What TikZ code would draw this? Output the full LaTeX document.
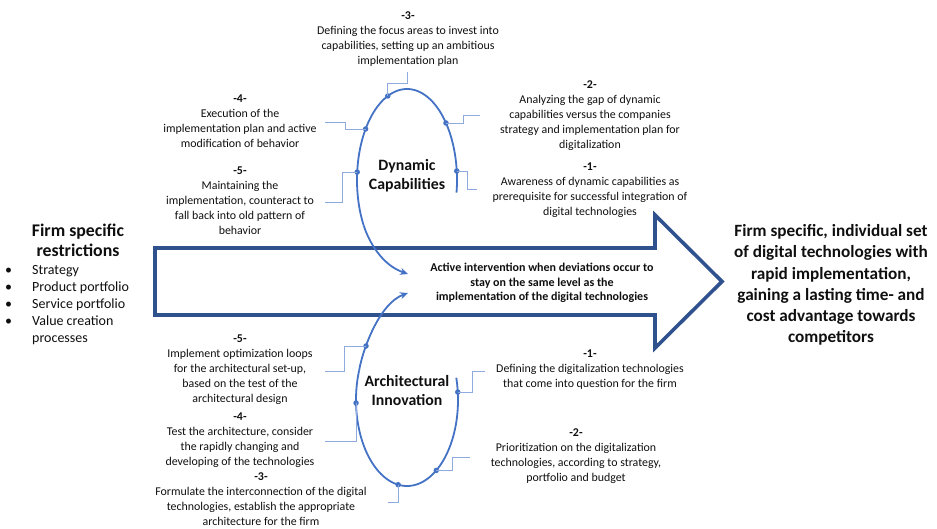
\documentclass[tikz,border=0pt]{standalone}
\usepackage{fontspec}
\setmainfont{Carlito}
\usetikzlibrary{arrows.meta}
\definecolor{arrowblue}{RGB}{47,82,143}
\definecolor{loopblue}{RGB}{68,114,196}
\definecolor{conblue}{RGB}{143,170,220}
\definecolor{txt}{RGB}{15,15,15}
\tikzset{
  lbl/.style={align=center, font=\fontsize{11.9}{15}\selectfont, text=txt, inner sep=0pt},
  loopline/.style={draw=loopblue, line width=1.8pt},
  conline/.style={draw=conblue, line width=0.9pt},
  dot/.style={circle, fill=loopblue, inner sep=0pt, minimum size=5.5pt},
  looptitle/.style={align=center, font=\fontsize{15.8}{19}\selectfont\bfseries, text=txt, inner sep=0pt},
}
\begin{document}
\begin{tikzpicture}[x=1pt,y=-1pt]
\useasboundingbox (0,0) rectangle (937,528);
% big arrow
\draw[arrowblue, line width=3.6pt, line join=miter]
  (155,248) -- (655,248) -- (655,215) -- (722,281.5) -- (655,348) -- (655,315) -- (155,315) -- cycle;

% upper loop
\draw[loopline] plot[domain=8:-210, samples=120] ({407+50*cos(\x)},{180+91*sin(\x)});
\coordinate (ustart) at ({407+50*cos(150)},{180+91*sin(150)});
\coordinate (utip) at (408,274);
\draw[loopline, -{Stealth[length=8pt,width=7pt]}] (ustart) .. controls (369,242) and (382,265) .. (utip);

% lower loop
\draw[loopline] plot[domain=-15:200, samples=120] ({407+51*cos(\x)},{400+86*sin(\x)});
\coordinate (lstart) at ({407+51*cos(200)},{400+86*sin(200)});
\coordinate (ltip) at (408,293);
\draw[loopline, -{Stealth[length=8pt,width=7pt]}] (lstart) .. controls (363,348) and (380,303) .. (ltip);

% upper dots
\node[dot] (ud1) at ({407+50*cos(-5.7)},{180+91*sin(-5.7)}) {};
\node[dot] (ud2) at ({407+50*cos(-38.8)},{180+91*sin(-38.8)}) {};
\node[dot] (ud3) at ({407+50*cos(-112.6)},{180+91*sin(-112.6)}) {};
\node[dot] (ud4) at ({407+50*cos(-145.9)},{180+91*sin(-145.9)}) {};
\node[dot] (ud5) at ({407+50*cos(-175)},{180+91*sin(-175)}) {};
% lower dots
\node[dot] (ld1) at ({407+51*cos(-5.3)},{400+86*sin(-5.3)}) {};
\node[dot] (ld2) at ({407+51*cos(55)},{400+86*sin(55)}) {};
\node[dot] (ld3) at ({407+51*cos(100)},{400+86*sin(100)}) {};
\node[dot] (ld4) at ({407+51*cos(178)},{400+86*sin(178)}) {};
\node[dot] (ld5) at (366,346) {};

% connector ends
\coordinate (cu3) at (407,72);
\coordinate (cu2) at (480,115);
\coordinate (cu1) at (477,189);
\coordinate (cu4) at (325,122);
\coordinate (cu5) at (325,202);
\coordinate (cl5) at (325,371);
\coordinate (cl4) at (325,441);
\coordinate (cl3) at (388,502);
\coordinate (cl2) at (470,457);
\coordinate (cl1) at (485,371);

\draw[conline] (ud3.center) -- (ud3.center |- 0,83) -- (cu3 |- 0,83) -- (cu3);
\draw[conline] (ud2.center) -- (463,0 |- ud2.center) -- (463,115) -- (cu2);
\draw[conline] (ud1.center) -- (467,0 |- ud1.center) -- (467,189) -- (cu1);
\draw[conline] (ud4.center) -- (345,0 |- ud4.center) -- (345,122) -- (cu4);
\draw[conline] (ud5.center) -- (342,0 |- ud5.center) -- (342,202) -- (cu5);
\draw[conline] (ld5.center) -- (344,0 |- ld5.center) -- (344,371) -- (cl5);
\draw[conline] (ld4.center) -- (ld4.center |- 0,441) -- (cl4);
\draw[conline] (ld3.center) -- (ld3.center |- 0,502) -- (cl3);
\draw[conline] (ld2.center) -- (452,0 |- ld2.center) -- (452,457) -- (cl2);
\draw[conline] (ld1.center) -- (472,0 |- ld1.center) -- (472,371) -- (cl1);

% loop titles
\node[looptitle] (dyn) at (407,176) {Dynamic\\Capabilities};
\node[looptitle] (arch) at (407,391) {Architectural\\Innovation};

% step texts
\node[lbl] (tu3) at (408,39) {\textbf{-3-}\\Defining the focus areas to invest into\\capabilities, setting up an ambitious\\implementation plan};
\node[lbl] (tu2) at (590,116) {\textbf{-2-}\\Analyzing the gap of dynamic\\capabilities versus the companies\\strategy and implementation plan for\\digitalization};
\node[lbl] (tu1) at (590,190) {\textbf{-1-}\\Awareness of dynamic capabilities as\\prerequisite for successful integration of\\digital technologies};
\node[lbl] (tu4) at (240,121) {\textbf{-4-}\\Execution of the\\implementation plan and active\\modification of behavior};
\node[lbl] (tu5) at (240,201) {\textbf{-5-}\\Maintaining the\\implementation, counteract to\\fall back into old pattern of\\behavior};
\node[lbl] (tl5) at (240,370) {\textbf{-5-}\\Implement optimization loops\\for the architectural set-up,\\based on the test of the\\architectural design};
\node[lbl] (tl4) at (240,440) {\textbf{-4-}\\Test the architecture, consider\\the rapidly changing and\\developing of the technologies};
\node[lbl] (tl3) at (261,499) {\textbf{-3-}\\Formulate the interconnection of the digital\\technologies, establish the appropriate\\architecture for the firm};
\node[lbl] (tl2) at (576,456) {\textbf{-2-}\\Prioritization on the digitalization\\technologies, according to strategy,\\portfolio and budget};
\node[lbl] (tl1) at (590,370) {\textbf{-1-}\\Defining the digitalization technologies\\that come into question for the firm};

% central text
\node[align=center, font=\fontsize{12}{14.5}\selectfont\bfseries, text=txt, inner sep=0pt] (mid) at (542,283) {Active intervention when deviations occur to\\stay on the same level as the\\implementation of the digital technologies};

% left text
\node[align=center, font=\fontsize{17.8}{20}\selectfont\bfseries, text=txt, inner sep=0pt] (left) at (78,240) {Firm specific\\restrictions};
\node[anchor=north west, align=left, font=\fontsize{14}{17}\selectfont, text=txt, inner sep=0pt] (bul) at (5,262)
{\begin{tabular}{@{}p{27pt}@{}l@{}}
\textbullet & Strategy\\
\textbullet & Product portfolio\\
\textbullet & Service portfolio\\
\textbullet & Value creation\\
 & processes
\end{tabular}};

% right text
\node[align=center, font=\fontsize{17.2}{21.2}\selectfont\bfseries, text=txt, inner sep=0pt] (right) at (831,285) {Firm specific, individual set\\of digital technologies with\\rapid implementation,\\gaining a lasting time- and\\cost advantage towards\\competitors};
\end{tikzpicture}
\end{document}
